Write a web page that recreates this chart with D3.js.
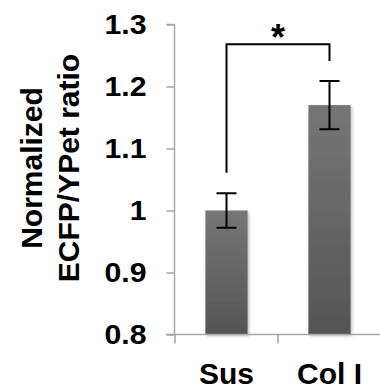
<!DOCTYPE html>
<html>
<head>
<meta charset="utf-8">
<script src="https://cdn.jsdelivr.net/npm/d3@7"></script>
<style>
  html, body { margin: 0; padding: 0; background: #fff; }
  svg { display: block; font-family: "Liberation Sans", Arial, sans-serif; }
</style>
</head>
<body>
<svg id="chart" width="380" height="391"></svg>
<script>
// Data
const categories = ["Sus", "Col I"];
const ratioValues = [1.0, 1.17];
const ratioErrors = [0.028, 0.039];
const yTicks = [0.8, 0.9, 1.0, 1.1, 1.2, 1.3];
const yTickLabels = ["0.8", "0.9", "1", "1.1", "1.2", "1.3"];
const titleLines = ["Normalized", "ECFP/YPet ratio"];
// significance bracket: [left foot, top, right foot] in data units
const bracketLevels = [1.061, 1.268, 1.241];
const sigLabel = "*";

const svg = d3.select("#chart");

const y = d3.scaleLinear().domain([0.8, 1.3]).range([334.5, 24.5]);
const x = d3.scaleBand().domain(categories).range([175, 381]).padding(0);
const barW = x.bandwidth() * 0.41;

// gradient fill for bars
const defs = svg.append("defs");
const grad = defs.append("linearGradient").attr("id", "barGrad")
  .attr("x1", 0).attr("y1", 0).attr("x2", 0).attr("y2", 1);
grad.append("stop").attr("offset", "0%").attr("stop-color", "#767676");
grad.append("stop").attr("offset", "100%").attr("stop-color", "#555555");
const shadow = defs.append("filter").attr("id", "barShadow")
  .attr("x", "-20%").attr("y", "-5%").attr("width", "150%").attr("height", "115%");
shadow.append("feDropShadow").attr("dx", 1.5).attr("dy", 1.5)
  .attr("stdDeviation", 1.5).attr("flood-color", "#000").attr("flood-opacity", 0.25);

// bars
svg.append("g").selectAll("rect").data(categories).join("rect")
  .attr("x", (d) => x(d) + x.bandwidth() / 2 - barW / 2)
  .attr("y", (d, i) => y(ratioValues[i]))
  .attr("width", barW)
  .attr("height", (d, i) => y(0.8) - y(ratioValues[i]))
  .attr("fill", "url(#barGrad)")
  .attr("filter", "url(#barShadow)");

// y axis
const yAxis = d3.axisLeft(y).tickValues(yTicks)
  .tickFormat((d, i) => yTickLabels[i]).tickSize(8).tickPadding(20);
const gy = svg.append("g").attr("transform", "translate(174.5,0)").call(yAxis);
gy.select(".domain").attr("stroke", "#a6a6a6").attr("stroke-width", 1.5)
  .attr("d", `M-8,${y(1.3)}H0V${y(0.8)}`);
gy.selectAll(".tick line").attr("stroke", "#a6a6a6").attr("stroke-width", 1.5);
gy.selectAll(".tick text").attr("fill", "#000").attr("font-size", 27)
  .attr("font-weight", "bold").attr("font-family", "Liberation Sans, Arial, sans-serif")
  .attr("x", 0).attr("transform", "translate(-28,0) scale(1.12,1)");

// x axis
const xAxis = d3.axisBottom(x).tickSize(0).tickPadding(28);
const gx = svg.append("g").attr("transform", `translate(0,${y(0.8)})`).call(xAxis);
gx.select(".domain").attr("stroke", "#a6a6a6").attr("stroke-width", 1.5)
  .attr("d", "M166,0H381");
gx.selectAll(".tick text").attr("fill", "#000").attr("font-size", 30)
  .attr("font-weight", "bold").attr("font-family", "Liberation Sans, Arial, sans-serif");
// category boundary ticks
gx.append("g").selectAll("line").data(x.domain()).join("line")
  .attr("x1", (d) => x(d)).attr("x2", (d) => x(d))
  .attr("y1", 0).attr("y2", 9)
  .attr("stroke", "#a6a6a6").attr("stroke-width", 1.5);

// error bars
const eb = svg.append("g").attr("stroke", "#000").attr("stroke-width", 2).attr("fill", "none");
categories.forEach((c, i) => {
  const cx = x(c) + x.bandwidth() / 2;
  const hi = y(ratioValues[i] + ratioErrors[i]);
  const lo = y(ratioValues[i] - ratioErrors[i]);
  eb.append("path").attr("d", `M${cx},${hi}V${lo}M${cx - 10},${hi}H${cx + 10}M${cx - 10},${lo}H${cx + 10}`);
});

// significance bracket
const xl = x(categories[0]) + x.bandwidth() / 2;
const xr = x(categories[1]) + x.bandwidth() / 2;
svg.append("path")
  .attr("d", `M${xl},${y(bracketLevels[0])}V${y(bracketLevels[1])}H${xr}V${y(bracketLevels[2])}`)
  .attr("fill", "none").attr("stroke", "#000").attr("stroke-width", 2);
svg.append("text").attr("x", (xl + xr) / 2).attr("y", 50)
  .attr("text-anchor", "middle").attr("font-size", 36).attr("font-weight", "bold")
  .text(sigLabel);

// y axis title
const title = svg.append("text")
  .attr("transform", "translate(0,168) rotate(-90)")
  .attr("text-anchor", "middle").attr("font-size", 30).attr("font-weight", "bold");
title.selectAll("tspan").data(titleLines).join("tspan")
  .attr("x", 0).attr("y", (d, i) => 42 + i * 37).text((d) => d);
</script>
</body>
</html>
